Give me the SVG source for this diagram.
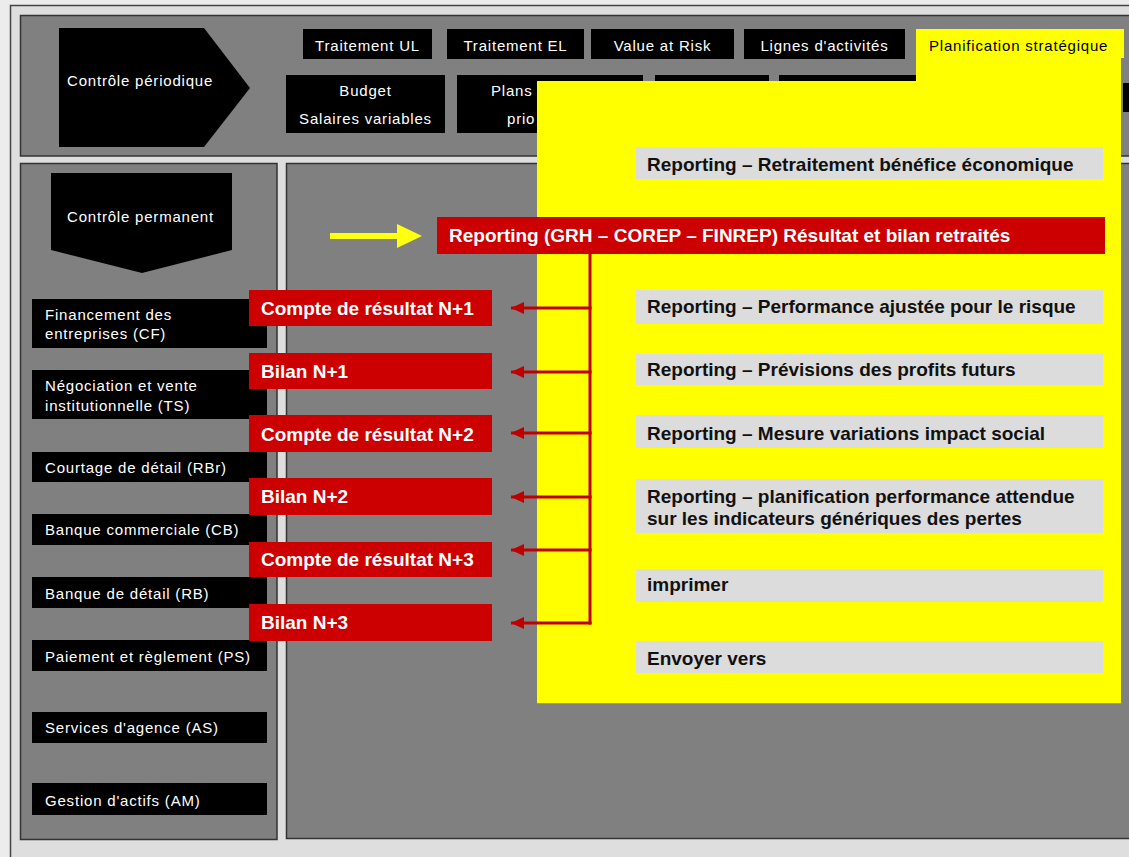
<svg xmlns="http://www.w3.org/2000/svg" width="1129" height="857" viewBox="0 0 1129 857">
<style>
.pan{fill:#808080;stroke:#333;stroke-width:1.5}
.blk{fill:#000}
.red{fill:#cc0000}
.gry{fill:#dcdcdc}
.s{font-family:"Liberation Sans",Arial,sans-serif;font-size:15px;letter-spacing:0.8px;fill:#fff}
.sk{font-family:"Liberation Sans",Arial,sans-serif;font-size:15px;letter-spacing:0.8px;fill:#000}
.bw{font-family:"Liberation Sans",Arial,sans-serif;font-size:19px;font-weight:bold;fill:#fff}
.bk{font-family:"Liberation Sans",Arial,sans-serif;font-size:19px;font-weight:bold;fill:#111}
.mid{text-anchor:middle}
.conn{stroke:#c00000;stroke-width:3;fill:none}
</style>
<defs>
<marker id="ah" markerUnits="userSpaceOnUse" viewBox="0 0 13 12" refX="13" refY="6" markerWidth="13" markerHeight="12" orient="auto">
<path d="M0,0 L13,6 L0,12 Z" fill="#c00000"/>
</marker>
</defs>

<g id="background">
<rect width="1129" height="857" fill="#ececec"/>
<rect x="10.5" y="5.5" width="1130" height="860" fill="#dedede" stroke="#444" stroke-width="1.5"/>
<rect class="pan" x="20.5" y="15.5" width="1120" height="140.5"/>
<rect class="pan" x="20.5" y="163.5" width="256.5" height="676"/>
<rect class="pan" x="286.5" y="163.5" width="850" height="675"/>
</g>

<g id="controle-periodique">
<polygon class="blk" points="59,28 204,28 250,88 204,147 59,147"/>
<text class="s" x="67" y="86">Contrôle périodique</text>
</g>

<g id="top-row">
<g id="traitement-ul"><rect class="blk" x="303" y="29" width="129" height="30"/><text class="s mid" x="367.5" y="51">Traitement UL</text></g>
<g id="traitement-el"><rect class="blk" x="447" y="29" width="137" height="30"/><text class="s mid" x="515.5" y="51">Traitement EL</text></g>
<g id="value-at-risk"><rect class="blk" x="591" y="29" width="143" height="30"/><text class="s mid" x="662.5" y="51">Value at Risk</text></g>
<g id="lignes"><rect class="blk" x="744" y="29" width="161" height="30"/><text class="s mid" x="824.5" y="51">Lignes d'activités</text></g>
</g>

<g id="second-row">
<g id="budget"><rect class="blk" x="286" y="75" width="159" height="58"/><text class="s mid" x="365.5" y="96">Budget</text><text class="s mid" x="365.5" y="124">Salaires variables</text></g>
<g id="plans"><rect class="blk" x="457" y="75" width="186" height="58"/><text class="s" x="491" y="96">Plans</text><text class="s" x="507" y="124">prio</text></g>
<g id="box-3"><rect class="blk" x="655" y="75" width="114" height="58"/></g>
<g id="box-4"><rect class="blk" x="779" y="75" width="137" height="58"/></g>
<g id="box-5"><rect class="blk" x="1123" y="83" width="10" height="29"/></g>
</g>

<g id="controle-permanent">
<polygon class="blk" points="51,173 232,173 232,250 142,273 51,250"/>
<text class="s" x="67" y="222">Contrôle permanent</text>
</g>

<g id="business-lines">
<g id="cf"><rect class="blk" x="32" y="299" width="235" height="49"/><text class="s" x="45" y="320">Financement des</text><text class="s" x="45" y="339">entreprises (CF)</text></g>
<g id="ts"><rect class="blk" x="32" y="370" width="235" height="49"/><text class="s" x="45" y="391">Négociation et vente</text><text class="s" x="45" y="411">institutionnelle (TS)</text></g>
<g id="rbr"><rect class="blk" x="32" y="452" width="235" height="30"/><text class="s" x="45" y="473">Courtage de détail (RBr)</text></g>
<g id="cb"><rect class="blk" x="32" y="514" width="235" height="31"/><text class="s" x="45" y="535">Banque commerciale (CB)</text></g>
<g id="rb"><rect class="blk" x="32" y="577" width="235" height="31"/><text class="s" x="45" y="599">Banque de détail (RB)</text></g>
<g id="ps"><rect class="blk" x="32" y="640" width="235" height="31"/><text class="s" x="45" y="662">Paiement et règlement (PS)</text></g>
<g id="as"><rect class="blk" x="32" y="712" width="235" height="31"/><text class="s" x="45" y="733">Services d'agence (AS)</text></g>
<g id="am"><rect class="blk" x="32" y="783" width="235" height="32"/><text class="s" x="45" y="806">Gestion d'actifs (AM)</text></g>
</g>

<g id="planification-panel">
<path d="M537,81 H916 V29 H1124 V58 H1121 V703 H537 Z" fill="#ffff00"/>
<line x1="537" y1="703.5" x2="1121" y2="703.5" stroke="#a8a030" stroke-width="1"/>
<text class="sk" x="929" y="51">Planification stratégique</text>
</g>

<g id="reports">
<g id="r1"><rect class="gry" x="636" y="147" width="467" height="32"/><text class="bk" x="647" y="171">Reporting – Retraitement bénéfice économique</text></g>
<g id="r2"><rect class="gry" x="636" y="290" width="467" height="34"/><text class="bk" x="647" y="313">Reporting – Performance ajustée pour le risque</text></g>
<g id="r3"><rect class="gry" x="636" y="354" width="467" height="31"/><text class="bk" x="647" y="376">Reporting – Prévisions des profits futurs</text></g>
<g id="r4"><rect class="gry" x="636" y="415" width="467" height="33"/><text class="bk" x="647" y="440">Reporting – Mesure variations impact social</text></g>
<g id="r5"><rect class="gry" x="636" y="479" width="467" height="54"/><text class="bk" x="647" y="503">Reporting – planification performance attendue</text><text class="bk" x="647" y="525">sur les indicateurs génériques des pertes</text></g>
<g id="r6"><rect class="gry" x="636" y="569" width="467" height="33"/><text class="bk" x="647" y="591">imprimer</text></g>
<g id="r7"><rect class="gry" x="636" y="641" width="467" height="32"/><text class="bk" x="647" y="665">Envoyer vers</text></g>
</g>

<g id="main-report">
<rect class="red" x="437" y="217" width="668" height="37"/>
<text class="bw" x="449" y="242">Reporting (GRH – COREP – FINREP) Résultat et bilan retraités</text>
</g>

<g id="statements">
<g id="cr1"><rect class="red" x="249" y="290" width="243" height="36"/><text class="bw" x="261" y="315">Compte de résultat N+1</text></g>
<g id="b1"><rect class="red" x="249" y="353" width="243" height="36"/><text class="bw" x="261" y="378">Bilan N+1</text></g>
<g id="cr2"><rect class="red" x="249" y="415" width="243" height="37"/><text class="bw" x="261" y="441">Compte de résultat N+2</text></g>
<g id="b2"><rect class="red" x="249" y="478" width="243" height="37"/><text class="bw" x="261" y="503">Bilan N+2</text></g>
<g id="cr3"><rect class="red" x="249" y="542" width="243" height="35"/><text class="bw" x="261" y="566">Compte de résultat N+3</text></g>
<g id="b3"><rect class="red" x="249" y="604" width="243" height="37"/><text class="bw" x="261" y="629">Bilan N+3</text></g>
</g>

<g id="connectors">
<polygon points="330,233 397,233 397,224 422,236 397,248 397,239 330,239" fill="#ffff10"/>
<line class="conn" x1="590" y1="254" x2="590" y2="624.5"/>
<line class="conn" x1="591.5" y1="308" x2="511" y2="308" marker-end="url(#ah)"/>
<line class="conn" x1="591.5" y1="372" x2="511" y2="372" marker-end="url(#ah)"/>
<line class="conn" x1="591.5" y1="433" x2="511" y2="433" marker-end="url(#ah)"/>
<line class="conn" x1="591.5" y1="497" x2="511" y2="497" marker-end="url(#ah)"/>
<line class="conn" x1="591.5" y1="550" x2="511" y2="550" marker-end="url(#ah)"/>
<line class="conn" x1="591.5" y1="623" x2="511" y2="623" marker-end="url(#ah)"/>
</g>
</svg>
